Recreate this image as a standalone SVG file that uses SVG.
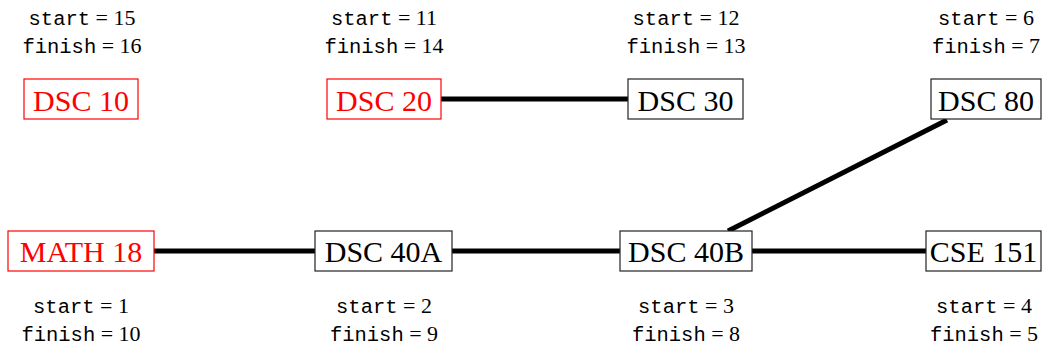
<svg xmlns="http://www.w3.org/2000/svg" width="1047" height="349" viewBox="0 0 1047 349">
<style>
.box{fill:#fff;stroke:#222;stroke-width:1.2}
.red .box{stroke:#f00}
.lbl{font-family:"Liberation Serif",serif;font-size:30px;text-anchor:middle;fill:#000}
.red .lbl{fill:#f00}
.info{text-anchor:middle;fill:#000}
.tt{font-family:"Liberation Mono",monospace;font-size:20.5px}
.rm{font-family:"Liberation Serif",serif;font-size:22px}
.edge{stroke:#000;stroke-width:5;fill:none}
</style>
<g id="connectors">
<line class="edge" x1="441" y1="99" x2="628" y2="99"/>
<line class="edge" x1="154" y1="251" x2="315" y2="251"/>
<line class="edge" x1="452" y1="251" x2="620" y2="251"/>
<line class="edge" x1="752" y1="251" x2="926" y2="251"/>
<line class="edge" x1="728" y1="231" x2="947" y2="120"/>
</g>
<g id="dsc10" class="red">
<rect class="box" x="24" y="79" width="114" height="40"/>
<text class="lbl" x="81" y="111">DSC 10</text>
<text class="info" x="82" y="25"><tspan class="tt">start</tspan><tspan class="rm"> = 15</tspan></text>
<text class="info" x="82" y="53"><tspan class="tt">finish</tspan><tspan class="rm"> = 16</tspan></text>
</g>
<g id="dsc20" class="red">
<rect class="box" x="327" y="79" width="114" height="40"/>
<text class="lbl" x="384" y="111">DSC 20</text>
<text class="info" x="384" y="25"><tspan class="tt">start</tspan><tspan class="rm"> = 11</tspan></text>
<text class="info" x="384" y="53"><tspan class="tt">finish</tspan><tspan class="rm"> = 14</tspan></text>
</g>
<g id="dsc30">
<rect class="box" x="628" y="79" width="115" height="40"/>
<text class="lbl" x="685.5" y="111">DSC 30</text>
<text class="info" x="686" y="25"><tspan class="tt">start</tspan><tspan class="rm"> = 12</tspan></text>
<text class="info" x="686" y="53"><tspan class="tt">finish</tspan><tspan class="rm"> = 13</tspan></text>
</g>
<g id="dsc80">
<rect class="box" x="931" y="79" width="110" height="40"/>
<text class="lbl" x="986" y="111">DSC 80</text>
<text class="info" x="986" y="25"><tspan class="tt">start</tspan><tspan class="rm"> = 6</tspan></text>
<text class="info" x="986" y="53"><tspan class="tt">finish</tspan><tspan class="rm"> = 7</tspan></text>
</g>
<g id="math18" class="red">
<rect class="box" x="8" y="231" width="146" height="40"/>
<text class="lbl" x="81" y="262">MATH 18</text>
<text class="info" x="81" y="313"><tspan class="tt">start</tspan><tspan class="rm"> = 1</tspan></text>
<text class="info" x="81" y="341"><tspan class="tt">finish</tspan><tspan class="rm"> = 10</tspan></text>
</g>
<g id="dsc40a">
<rect class="box" x="315" y="231" width="137" height="40"/>
<text class="lbl" x="383.5" y="262">DSC 40A</text>
<text class="info" x="384" y="313"><tspan class="tt">start</tspan><tspan class="rm"> = 2</tspan></text>
<text class="info" x="384" y="341"><tspan class="tt">finish</tspan><tspan class="rm"> = 9</tspan></text>
</g>
<g id="dsc40b">
<rect class="box" x="620" y="231" width="132" height="40"/>
<text class="lbl" x="686" y="262">DSC 40B</text>
<text class="info" x="686" y="313"><tspan class="tt">start</tspan><tspan class="rm"> = 3</tspan></text>
<text class="info" x="686" y="341"><tspan class="tt">finish</tspan><tspan class="rm"> = 8</tspan></text>
</g>
<g id="cse151">
<rect class="box" x="926" y="231" width="115" height="40"/>
<text class="lbl" x="983.5" y="262">CSE 151</text>
<text class="info" x="984" y="313"><tspan class="tt">start</tspan><tspan class="rm"> = 4</tspan></text>
<text class="info" x="984" y="341"><tspan class="tt">finish</tspan><tspan class="rm"> = 5</tspan></text>
</g>
</svg>
